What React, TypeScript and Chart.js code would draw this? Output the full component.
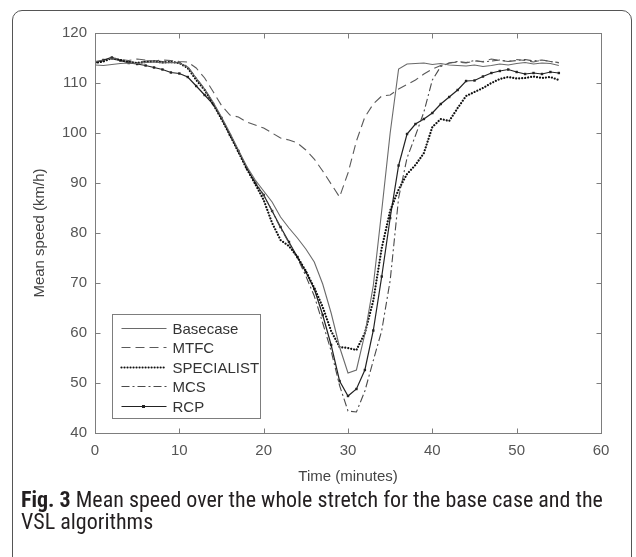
import React, { useEffect, useRef } from "react";
import Chart from "chart.js/auto";

const minutes = [0,1,2,3,4,5,6,7,8,9,10,11,12,13,14,15,16,17,18,19,20,21,22,23,24,25,26,27,28,29,30,31,32,33,34,35,36,37,38,39,40,41,42,43,44,45,46,47,48,49,50,51,52,53,54,55];

const basecase = [113.6,113.5,113.7,113.9,114.0,113.9,114.1,114.2,114.0,114.1,114.0,113.2,111.0,108.8,106.2,103.2,100.0,96.6,93.3,90.6,88.4,86.2,83.2,81.0,79.0,76.8,74.2,69.8,64.0,57.2,52.0,52.6,59.8,69.5,84.5,100.0,112.8,113.8,113.9,114.0,113.7,113.9,113.6,113.5,113.4,113.6,113.3,113.5,113.8,113.6,113.9,114.1,113.8,114.0,113.9,113.5];

const mtfc = [114.3,114.6,115.0,114.7,114.5,114.8,114.6,114.4,114.6,114.5,114.3,114.2,113.0,111.0,108.3,105.5,103.6,103.2,102.2,101.6,101.0,100.0,99.0,98.6,98.0,96.6,94.8,92.4,89.8,87.2,92.0,98.4,103.2,105.8,107.4,107.6,108.8,109.7,110.6,111.8,112.8,113.5,114.0,114.2,114.0,114.4,114.3,114.8,114.5,114.3,114.7,114.5,114.2,114.6,114.3,114.0];

const specialist = [114.0,114.3,115.0,114.6,114.2,114.0,114.2,114.3,114.1,114.2,114.0,113.0,110.6,108.6,105.8,102.8,99.6,96.2,92.8,89.8,86.6,82.0,78.6,77.4,75.2,72.4,69.0,65.2,60.4,57.2,57.0,56.6,60.0,66.5,77.0,84.5,88.7,91.8,93.6,96.0,101.2,102.8,102.4,105.0,107.4,108.2,109.0,110.0,110.8,111.2,110.9,111.0,111.3,111.0,111.2,110.6];

const mcs = [114.2,114.4,114.8,114.5,114.3,114.1,114.4,114.5,114.3,114.2,114.1,113.3,111.0,108.8,106.0,103.0,99.8,96.4,93.0,90.2,87.6,84.4,81.0,78.0,75.0,71.4,67.4,62.0,56.4,49.5,44.4,44.2,48.4,54.5,60.5,70.5,87.0,95.0,99.5,104.2,110.6,113.3,114.0,114.3,114.1,114.5,114.2,114.4,114.6,114.3,114.5,114.7,114.4,114.6,114.3,114.1];

const rcp = [114.0,114.6,115.1,114.5,114.0,113.8,113.5,113.1,112.7,112.1,111.9,111.2,109.4,107.6,105.8,103.0,99.6,96.4,93.0,90.0,87.6,84.4,81.2,78.2,75.2,72.2,68.8,63.6,57.6,50.4,47.4,48.8,52.6,60.5,71.3,83.0,93.5,99.8,101.8,102.8,104.0,105.8,107.2,108.6,110.4,110.5,111.3,112.0,112.4,112.7,112.2,111.8,112.0,111.8,112.2,112.0];

const seriesNames = ["Basecase", "MTFC", "SPECIALIST", "MCS", "RCP"];
const xTicks = [0, 10, 20, 30, 40, 50, 60];
const yTicks = [40, 50, 60, 70, 80, 90, 100, 110, 120];

const styles = [
  { color: "#6a6a6a", width: 1.1, dash: [] as number[], cap: "butt", point: false },
  { color: "#5a5a5a", width: 1.1, dash: [9, 5], cap: "butt", point: false },
  { color: "#111111", width: 2.2, dash: [0.01, 3], cap: "round", point: false },
  { color: "#4a4a4a", width: 1.1, dash: [8, 3, 2, 3], cap: "butt", point: false },
  { color: "#222222", width: 1.2, dash: [] as number[], cap: "butt", point: true },
];

const tickFont = { family: "'Liberation Sans', Arial, sans-serif", size: 15 };

const framePlugin = {
  id: "frameAndLegend",
  afterDraw(chart: any) {
    const { ctx, chartArea: a, scales } = chart;
    ctx.save();
    ctx.strokeStyle = "#7d7d7d";
    ctx.lineWidth = 1;
    ctx.setLineDash([]);
    const L = Math.round(a.left) + 0.5, R = Math.round(a.right) + 0.5;
    const T = Math.round(a.top) + 0.5, B = Math.round(a.bottom) + 0.5;
    ctx.strokeRect(L, T, R - L, B - T);
    ctx.beginPath();
    xTicks.forEach((v) => {
      const px = Math.round(scales.x.getPixelForValue(v)) + 0.5;
      ctx.moveTo(px, B); ctx.lineTo(px, B - 5);
      ctx.moveTo(px, T); ctx.lineTo(px, T + 5);
    });
    yTicks.forEach((v) => {
      const py = Math.round(scales.y.getPixelForValue(v)) + 0.5;
      ctx.moveTo(L, py); ctx.lineTo(L + 5, py);
      ctx.moveTo(R, py); ctx.lineTo(R - 5, py);
    });
    ctx.stroke();

    // legend
    const bx = L + 17, bw = 148, bh = 104, by = B - 15 - bh;
    ctx.fillStyle = "#ffffff";
    ctx.fillRect(bx, by, bw, bh);
    ctx.strokeStyle = "#7d7d7d";
    ctx.strokeRect(bx, by, bw, bh);
    ctx.font = "15px 'Liberation Sans', Arial, sans-serif";
    ctx.textBaseline = "middle";
    seriesNames.forEach((name, i) => {
      const st = styles[i];
      const y = Math.round(by + 13 + i * 19.5) + 0.5;
      ctx.strokeStyle = st.color;
      ctx.lineWidth = st.width;
      ctx.lineCap = st.cap as CanvasLineCap;
      ctx.setLineDash(st.dash);
      ctx.beginPath();
      ctx.moveTo(bx + 9, y);
      ctx.lineTo(bx + 54, y);
      ctx.stroke();
      ctx.lineCap = "butt";
      if (st.point) {
        ctx.setLineDash([]);
        ctx.fillStyle = st.color;
        ctx.fillRect(bx + 31 - 1.5, y - 1.5, 3, 3);
      }
      ctx.setLineDash([]);
      ctx.fillStyle = "#333333";
      ctx.fillText(name, bx + 60, y + 1);
    });
    ctx.restore();
  },
};

export default function App() {
  const ref = useRef<HTMLCanvasElement | null>(null);
  useEffect(() => {
    if (!ref.current) return;
    const all = [basecase, mtfc, specialist, mcs, rcp];
    const chart = new Chart(ref.current, {
      type: "line",
      data: {
        labels: minutes,
        datasets: all.map((vals, i) => ({
          label: seriesNames[i],
          data: vals.map((v, j) => ({ x: minutes[j], y: v })),
          borderColor: styles[i].color,
          backgroundColor: styles[i].color,
          borderWidth: styles[i].width,
          borderDash: styles[i].dash,
          borderCapStyle: styles[i].cap as any,
          pointRadius: styles[i].point ? 1.7 : 0,
          pointStyle: "rect",
          pointBorderWidth: 0,
          tension: 0,
          fill: false,
        })),
      },
      options: {
        responsive: false,
        maintainAspectRatio: false,
        animation: false,
        events: [],
        layout: { padding: { top: 33, right: 35, left: 0, bottom: 0 } },
        plugins: { legend: { display: false }, tooltip: { enabled: false } },
        scales: {
          x: {
            type: "linear",
            min: 0,
            max: 60,
            afterFit: (s: any) => { s.height = 59; },
            afterBuildTicks: (s: any) => { s.ticks = xTicks.map((v) => ({ value: v })); },
            grid: { display: false, drawTicks: false },
            border: { display: false },
            ticks: { font: tickFont, color: "#555555", padding: 9, maxRotation: 0 },
            title: {
              display: true,
              text: "Time (minutes)",
              font: tickFont,
              color: "#444444",
              padding: { top: 0, bottom: 6 },
            },
          },
          y: {
            min: 40,
            max: 120,
            afterFit: (s: any) => { s.width = 95; },
            afterBuildTicks: (s: any) => { s.ticks = yTicks.map((v) => ({ value: v })); },
            grid: { display: false, drawTicks: false },
            border: { display: false },
            ticks: { font: tickFont, color: "#555555", padding: 8 },
            title: {
              display: true,
              text: "Mean speed (km/h)",
              font: tickFont,
              color: "#444444",
              padding: { top: 31, bottom: 0 },
            },
          },
        },
      },
      plugins: [framePlugin],
    });
    return () => chart.destroy();
  }, []);

  return (
    <div style={{ position: "fixed", left: 0, top: 0, width: 636, height: 557, background: "#ffffff", overflow: "hidden" }}>
      <div style={{ position: "absolute", left: 12, top: 10, width: 620, height: 640, border: "1.5px solid #555", borderRadius: 10, boxSizing: "border-box" }} />
      <canvas ref={ref} width={636} height={492} style={{ position: "absolute", left: 0, top: 0, width: 636, height: 492 }} />
      <div style={{ position: "absolute", left: 21, top: 489, width: 612, fontFamily: "'Roboto Condensed', 'Liberation Sans', sans-serif", fontSize: 22, lineHeight: "22px", color: "#231f20", whiteSpace: "nowrap" }}>
        <div><b>Fig. 3</b> Mean speed over the whole stretch for the base case and the</div>
        <div>VSL algorithms</div>
      </div>
    </div>
  );
}
